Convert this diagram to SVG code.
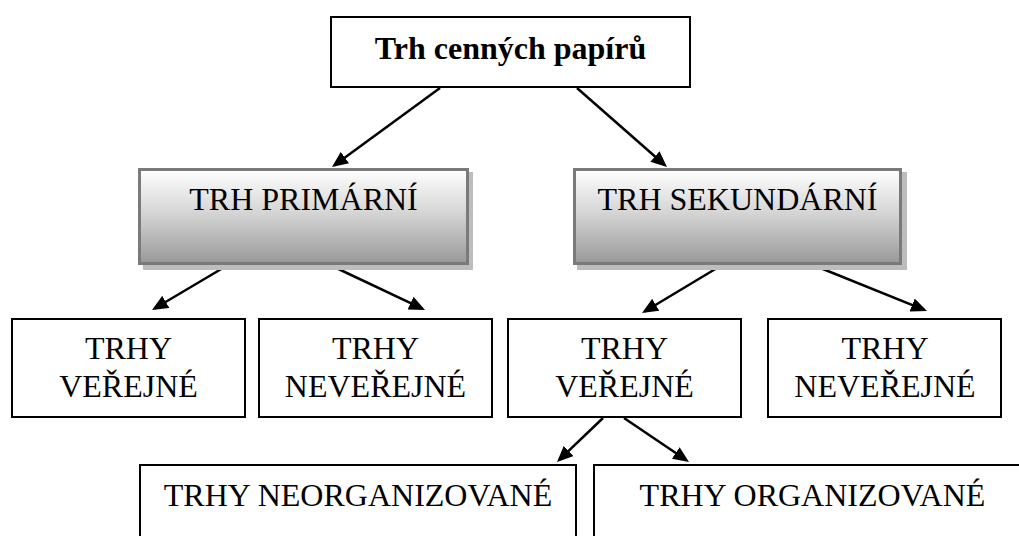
<svg xmlns="http://www.w3.org/2000/svg" width="1019" height="536" viewBox="0 0 1019 536">
<style>
.box{fill:#fff;stroke:#000;stroke-width:2}
.gbox{fill:url(#g);stroke:#7a7a7a;stroke-width:3}
.shadow{fill:#bdbdbd}
.t{font-family:"Liberation Serif","Times New Roman",serif;font-size:32px;fill:#000;text-anchor:middle}
.b{font-weight:bold}
.c{stroke:#000;stroke-width:2.5;fill:none;marker-end:url(#ah)}
</style>
<defs>
<linearGradient id="g" x1="0" y1="0" x2="0" y2="1">
<stop offset="0" stop-color="#ffffff"/>
<stop offset="0.45" stop-color="#d6d6d6"/>
<stop offset="1" stop-color="#999999"/>
</linearGradient>
<marker id="ah" viewBox="0 0 16 14" refX="13" refY="7" markerWidth="16" markerHeight="14" orient="auto" markerUnits="userSpaceOnUse">
<path d="M0,0 L16,7 L0,14 z" fill="#000"/>
</marker>
</defs>
<rect width="1019" height="536" fill="#fff"/>
<g id="connectors">
<line class="c" x1="440" y1="88" x2="334.4" y2="165.2"/>
<line class="c" x1="577" y1="88" x2="664.7" y2="165.0"/>
<line class="c" x1="228" y1="265" x2="154.6" y2="308.5"/>
<line class="c" x1="330" y1="265" x2="422.3" y2="308.7"/>
<line class="c" x1="722" y1="265" x2="644.6" y2="311.5"/>
<line class="c" x1="813" y1="265" x2="924.2" y2="309.9"/>
<line class="c" x1="603" y1="418" x2="559.2" y2="459.9"/>
<line class="c" x1="624" y1="418" x2="686.5" y2="460.3"/>
</g>
<g id="root">
<rect class="box" x="331" y="17" width="359" height="70"/>
<text class="t b" x="510.5" y="59">Trh cenných papírů</text>
</g>
<g id="primarni">
<rect class="shadow" x="143" y="172" width="330" height="98"/>
<rect class="gbox" x="139.5" y="169.5" width="328" height="94"/>
<text class="t" x="303.5" y="210">TRH PRIMÁRNÍ</text>
</g>
<g id="sekundarni">
<rect class="shadow" x="577" y="172" width="330" height="98"/>
<rect class="gbox" x="574.5" y="169.5" width="326" height="94"/>
<text class="t" x="737.5" y="210">TRH SEKUNDÁRNÍ</text>
</g>
<g id="p-verejne">
<rect class="box" x="12" y="319" width="233" height="98"/>
<text class="t" x="128.5" y="359">TRHY</text>
<text class="t" x="128.5" y="397">VEŘEJNÉ</text>
</g>
<g id="p-neverejne">
<rect class="box" x="259" y="319" width="233" height="98"/>
<text class="t" x="375.5" y="359">TRHY</text>
<text class="t" x="375.5" y="397">NEVEŘEJNÉ</text>
</g>
<g id="s-verejne">
<rect class="box" x="508" y="319" width="233" height="98"/>
<text class="t" x="624.5" y="359">TRHY</text>
<text class="t" x="624.5" y="397">VEŘEJNÉ</text>
</g>
<g id="s-neverejne">
<rect class="box" x="768" y="319" width="233" height="98"/>
<text class="t" x="885" y="359">TRHY</text>
<text class="t" x="885" y="397">NEVEŘEJNÉ</text>
</g>
<g id="neorganizovane">
<rect class="box" x="140" y="465" width="436" height="100"/>
<text class="t" x="358" y="506">TRHY NEORGANIZOVANÉ</text>
</g>
<g id="organizovane">
<rect class="box" x="594" y="465" width="437" height="100"/>
<text class="t" x="812.5" y="506">TRHY ORGANIZOVANÉ</text>
</g>
</svg>
